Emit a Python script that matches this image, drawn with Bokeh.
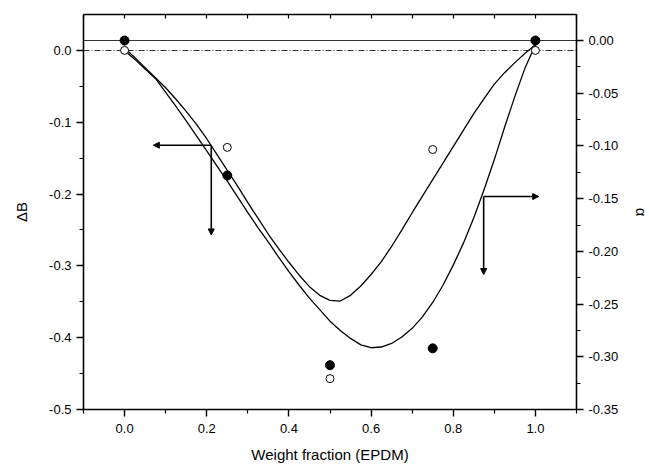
from bokeh.plotting import figure
from bokeh.models import Range1d, LinearAxis, Arrow, NormalHead, FixedTicker, PrintfTickFormatter
from bokeh.embed import file_html
from bokeh.resources import INLINE

# ---- data ----
weight_fraction = [0.0, 0.25, 0.5, 0.75, 1.0]
delta_b_open = [0.0, -0.135, -0.457, -0.138, 0.0]          # open circles, left axis (ΔB)
alpha_filled = [0.0, -0.128, -0.308, -0.292, 0.0]           # filled circles, right axis (α)

curve_x = [0.0, 0.025, 0.05, 0.075, 0.1, 0.125, 0.15, 0.175, 0.2, 0.225, 0.25,
           0.275, 0.3, 0.325, 0.35, 0.375, 0.4, 0.425, 0.45, 0.475, 0.5,
           0.525, 0.55, 0.575, 0.6, 0.625, 0.65, 0.675, 0.7, 0.725, 0.75,
           0.775, 0.8, 0.825, 0.85, 0.875, 0.9, 0.925, 0.95, 0.975, 1.0]
curve_a = [0.003, -0.010, -0.024, -0.038, -0.052, -0.068, -0.085, -0.103, -0.123, -0.145, -0.167,
           -0.189, -0.212, -0.234, -0.256, -0.276, -0.295, -0.313, -0.329, -0.341, -0.348,
           -0.349, -0.341, -0.328, -0.312, -0.294, -0.273, -0.250, -0.226, -0.203, -0.180,
           -0.157, -0.134, -0.111, -0.088, -0.067, -0.047, -0.031, -0.017, -0.004, 0.008]
curve_b = [0.000, -0.0125, -0.026, -0.039, -0.0585, -0.078, -0.098, -0.119, -0.140, -0.161, -0.182,
           -0.204, -0.226, -0.247, -0.267, -0.288, -0.308, -0.327, -0.345, -0.361, -0.377,
           -0.390, -0.401, -0.410, -0.414, -0.413, -0.408, -0.399, -0.387, -0.371, -0.351,
           -0.327, -0.299, -0.268, -0.233, -0.194, -0.152, -0.107, -0.064, -0.024, 0.008]

left_ticks = [-0.5, -0.4, -0.3, -0.2, -0.1, 0.0]
left_minor = [-0.45, -0.35, -0.25, -0.15, -0.05]
right_ticks = [-0.35, -0.30, -0.25, -0.20, -0.15, -0.10, -0.05, 0.00]
right_minor = [-0.325, -0.275, -0.225, -0.175, -0.125, -0.075, -0.025]
x_ticks = [0.0, 0.2, 0.4, 0.6, 0.8, 1.0]
x_minor = [-0.1, 0.1, 0.3, 0.5, 0.7, 0.9, 1.1]

FONT = "Liberation Sans"

p = figure(frame_width=493, frame_height=395, output_backend="svg", toolbar_location=None,
           x_range=Range1d(-0.1, 1.1), y_range=Range1d(-0.5, 0.05),
           min_border_left=83, min_border_right=66, min_border_top=14, min_border_bottom=52)
p.extra_y_ranges = {"alpha": Range1d(-0.35, 0.0247)}
p.grid.visible = False
p.outline_line_color = None
p.background_fill_color = "white"

bottom = p.below[0]
left = p.left[0]
right = LinearAxis(y_range_name="alpha", axis_label="α")
p.add_layout(right, "right")
top = LinearAxis(axis_label=None)
p.add_layout(top, "above")

for ax in [bottom, left, right, top]:
    ax.axis_line_color = "black"
    ax.axis_line_width = 1.6
    ax.major_tick_line_color = "black"
    ax.major_tick_line_width = 1.4
    ax.minor_tick_line_color = "black"
    ax.minor_tick_line_width = 1.2
    ax.major_label_text_font = FONT
    ax.major_label_text_font_size = "13px"
    ax.major_label_text_color = "black"
    ax.axis_label_text_font = FONT
    ax.axis_label_text_font_size = "15px"
    ax.axis_label_text_font_style = "normal"
    ax.axis_label_text_color = "black"
    ax.major_tick_out = 7
    ax.major_tick_in = 0
    ax.minor_tick_out = 4
    ax.minor_tick_in = 0
    ax.major_label_standoff = 5

bottom.ticker = FixedTicker(ticks=x_ticks, minor_ticks=x_minor)
bottom.formatter = PrintfTickFormatter(format="%.1f")
bottom.axis_label = "Weight fraction (EPDM)"
bottom.major_label_standoff = 7
bottom.axis_label_standoff = 10
left.ticker = FixedTicker(ticks=left_ticks, minor_ticks=left_minor)
left.formatter = PrintfTickFormatter(format="%.1f")
left.axis_label = "ΔB"
left.axis_label_standoff = 16
right.ticker = FixedTicker(ticks=right_ticks, minor_ticks=right_minor)
right.formatter = PrintfTickFormatter(format="%.2f")
right.axis_label_standoff = 12
# top frame edge: ticks only (drawn as minor ticks so no labels are produced)
top.ticker = FixedTicker(ticks=[], minor_ticks=x_ticks + x_minor)
top.major_tick_out = 0
top.minor_tick_out = 0
top.minor_tick_in = 4

# reference lines
p.hspan(y=[0.0], line_color="black", line_width=0.8, y_range_name="alpha")
p.hspan(y=[0.0], line_color="black", line_width=0.8, line_dash="6 2 1 2")

# fitted curves
p.line(curve_x, curve_a, line_color="black", line_width=1.3)
p.line(curve_x, curve_b, line_color="black", line_width=1.3)

# data points
p.scatter(weight_fraction, delta_b_open, size=8, marker="circle",
          fill_color="white", line_color="black", line_width=1)
p.scatter(weight_fraction, alpha_filled, size=9, marker="circle",
          fill_color="black", line_color="black", y_range_name="alpha")

# axis indicator arrows
def head():
    return NormalHead(size=6, fill_color="black", line_color="black")

p.add_layout(Arrow(end=head(), x_start=0.211, y_start=-0.132, x_end=0.07, y_end=-0.132,
                   line_width=1.6, line_color="black"))
p.add_layout(Arrow(end=head(), x_start=0.211, y_start=-0.132, x_end=0.211, y_end=-0.257,
                   line_width=1.6, line_color="black"))
p.add_layout(Arrow(end=head(), x_start=0.874, y_start=-0.148, x_end=1.008, y_end=-0.148,
                   line_width=1.6, line_color="black", y_range_name="alpha"))
p.add_layout(Arrow(end=head(), x_start=0.874, y_start=-0.148, x_end=0.874, y_end=-0.222,
                   line_width=1.6, line_color="black", y_range_name="alpha"))

open("out.html", "w").write(file_html(p, INLINE))
